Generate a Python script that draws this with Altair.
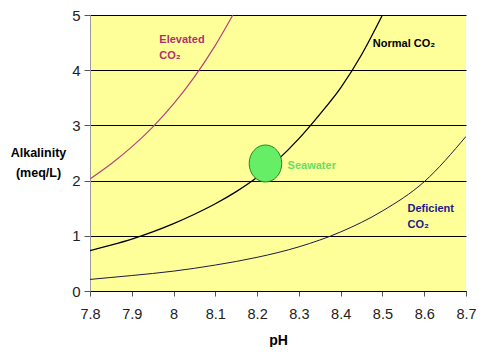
import altair as alt
import pandas as pd

# Curves
normal_ph = [7.8, 7.85, 7.9, 7.95, 8.0, 8.05, 8.1, 8.15, 8.2, 8.25, 8.3, 8.35, 8.4, 8.45, 8.5]
normal_alk = [0.73, 0.83, 0.94, 1.07, 1.22, 1.39, 1.58, 1.8, 2.06, 2.38, 2.76, 3.2, 3.68, 4.28, 5.0]

elevated_ph = [7.8, 7.85, 7.9, 7.95, 8.0, 8.05, 8.1, 8.142]
elevated_alk = [2.03, 2.3, 2.61, 2.97, 3.39, 3.88, 4.45, 5.0]

deficient_ph = [7.8, 7.9, 8.0, 8.1, 8.2, 8.3, 8.4, 8.5, 8.6, 8.7]
deficient_alk = [0.21, 0.28, 0.36, 0.47, 0.61, 0.8, 1.07, 1.45, 1.98, 2.8]

seawater_ph = [8.22]
seawater_alk = [2.31]

x_ticks = [7.8, 7.9, 8.0, 8.1, 8.2, 8.3, 8.4, 8.5, 8.6, 8.7]
y_ticks = [0, 1, 2, 3, 4, 5]

# Labels (text, pH, alkalinity, colour)
label_text = ["Elevated", "CO₂", "Normal CO₂", "Deficient", "CO₂", "Seawater"]
label_ph = [7.966, 7.966, 8.477, 8.56, 8.56, 8.273]
label_alk = [4.55, 4.26, 4.48, 1.48, 1.19, 2.27]
label_color = ["#B0306E", "#B0306E", "#000000", "#1A1A8C", "#1A1A8C", "#66DD66"]

xs = alt.Scale(domain=[7.8, 8.7], nice=False, zero=False)
ys = alt.Scale(domain=[0, 5], nice=False)

lines = pd.DataFrame(
    [{"pH": p, "alk": a, "s": "Normal"} for p, a in zip(normal_ph, normal_alk)]
    + [{"pH": p, "alk": a, "s": "Elevated"} for p, a in zip(elevated_ph, elevated_alk)]
    + [{"pH": p, "alk": a, "s": "Deficient"} for p, a in zip(deficient_ph, deficient_alk)]
)

base_x = alt.X(
    "pH:Q", scale=xs,
    axis=alt.Axis(
        values=x_ticks, format=".1~f", grid=False, title="pH", labelFlush=False,
        labelFont="Liberation Sans", labelFontSize=14.5, labelColor="#222222",
        labelPadding=11, tickSize=5, tickColor="#555555", domainColor="#000000",
        titleFont="Liberation Sans", titleFontSize=14, titleFontWeight="bold",
        titleY=49, titleBaseline="middle",
    ),
)
base_y = alt.Y(
    "alk:Q", scale=ys,
    axis=alt.Axis(
        values=y_ticks, grid=True, gridColor="#000000", gridWidth=1, gridOpacity=1,
        title=["Alkalinity", "(meq/L)"], titleAngle=0, titleAlign="center",
        titleX=-52, titleY=137, titleBaseline="middle", titleLineHeight=20,
        titleFont="Liberation Sans", titleFontSize=12.5, titleFontWeight="bold",
        labelFont="Liberation Sans", labelFontSize=15, labelColor="#222222",
        labelPadding=4, tickSize=6, tickColor="#555555", domainColor="#999999",
        labelFlush=False,
    ),
)

curves = alt.Chart(lines).mark_line(interpolate="monotone", clip=True).encode(
    x=base_x,
    y=base_y,
    color=alt.Color(
        "s:N",
        scale=alt.Scale(domain=["Normal", "Elevated", "Deficient"],
                        range=["#000000", "#B0407E", "#1A1A40"]),
        legend=None,
    ),
    strokeWidth=alt.StrokeWidth(
        "s:N",
        scale=alt.Scale(domain=["Normal", "Elevated", "Deficient"], range=[1.3, 1.0, 1.3]),
        legend=None,
    ),
)

sea = pd.DataFrame({"pH": seawater_ph, "alk": seawater_alk})
ellipse = "M -0.88,0 A 0.88,1 0 1,1 0.88,0 A 0.88,1 0 1,1 -0.88,0 Z"
circle = alt.Chart(sea).mark_point(
    shape=ellipse, size=1369, filled=True, fill="#66EE66", stroke="#228822",
    strokeWidth=1, opacity=1,
).encode(x="pH:Q", y="alk:Q")

labels = pd.DataFrame({"t": label_text, "pH": label_ph, "alk": label_alk, "c": label_color})
text = alt.Chart(labels).mark_text(
    align="left", baseline="middle", font="Liberation Sans", fontSize=11, fontWeight="bold"
).encode(x="pH:Q", y="alk:Q", text="t:N", color=alt.Color("c:N", scale=None))

chart = alt.layer(curves, circle, text).properties(
    width=376, height=276,
    autosize=alt.AutoSizeParams(type="none"),
    padding={"left": 82, "top": 7, "right": 10, "bottom": 56},
    background="white",
).configure_view(fill="#FFFF99", strokeWidth=0)

chart.save("out.html", embed_options={"renderer": "svg", "actions": False})
